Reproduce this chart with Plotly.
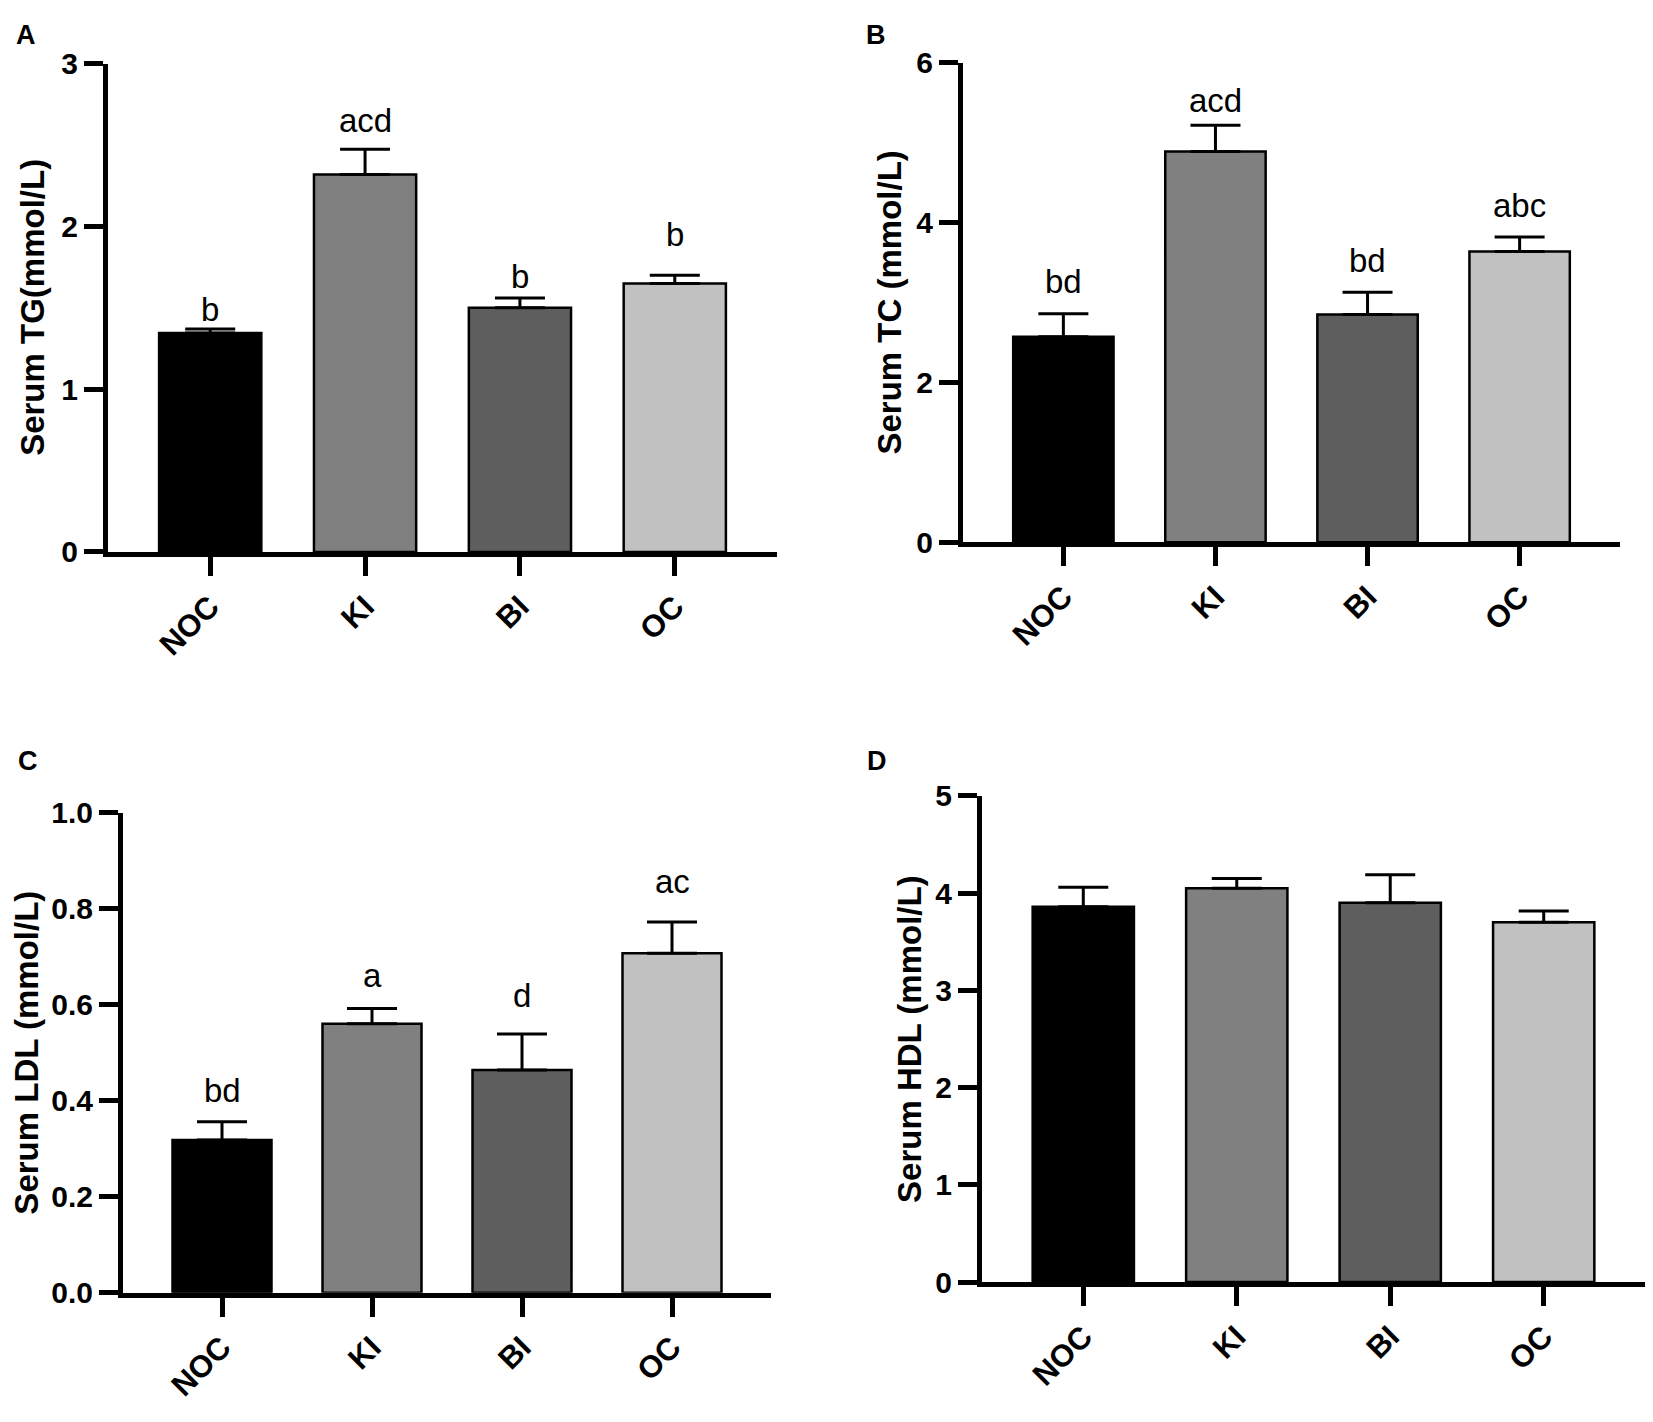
import plotly.graph_objects as go

W, H = 1653, 1422

groups = ["NOC", "KI", "BI", "OC"]

tg_mean = [1.345, 2.32, 1.50, 1.65]
tg_sem = [0.025, 0.155, 0.06, 0.05]
tg_labels = ["b", "acd", "b", "b"]

tc_mean = [2.57, 4.89, 2.85, 3.64]
tc_sem = [0.29, 0.33, 0.28, 0.18]
tc_labels = ["bd", "acd", "bd", "abc"]

ldl_mean = [0.318, 0.560, 0.464, 0.707]
ldl_sem = [0.038, 0.032, 0.075, 0.065]
ldl_labels = ["bd", "a", "d", "ac"]

hdl_mean = [3.86, 4.05, 3.90, 3.70]
hdl_sem = [0.20, 0.10, 0.29, 0.115]
hdl_labels = ["", "", "", ""]

y_titles = ["Serum TG(mmol/L)", "Serum TC (mmol/L)", "Serum LDL (mmol/L)", "Serum HDL (mmol/L)"]
panel_letters = ["A", "B", "C", "D"]
y_max = [3, 6, 1.0, 5]
y_dtick = [1, 2, 0.2, 1]
y_format = ["d", "d", ".1f", "d"]

# styling / layout (pixel boxes of each plot area: left, right, top, bottom)
bar_colors = ["#000000", "#808080", "#5e5e5e", "#c1c1c1"]
boxes = [(108, 777, 48, 548), (963, 1620, 47, 538), (123, 771, 815, 1307), (982, 1645, 798, 1296)]
title_x = [33, 890, 27, 910]
letter_pos = [(26, 18), (876, 18), (28, 762), (877, 762)]
gap_px = [[8, 17, 10, 29], [21, 13, 20, 20], [20, 21, 27, 29], [0, 0, 0, 0]]

FONT = "Liberation Sans, Arial, sans-serif"

fig = go.Figure()
means = [tg_mean, tc_mean, ldl_mean, hdl_mean]
sems = [tg_sem, tc_sem, ldl_sem, hdl_sem]
labels = [tg_labels, tc_labels, ldl_labels, hdl_labels]

annotations = []
for i in range(4):
    sfx = "" if i == 0 else str(i + 1)
    fig.add_trace(go.Bar(
        x=groups, y=means[i],
        xaxis="x" + sfx, yaxis="y" + sfx,
        width=0.66,
        marker=dict(color=bar_colors, line=dict(color="black", width=2.5)),
        error_y=dict(type="data", array=sems[i], arrayminus=[0] * 4, symmetric=False,
                     color="black", thickness=3, width=25),
        showlegend=False,
    ))
    l, r, t, b = boxes[i]
    xd = [l / W, r / W]
    yd = [1 - b / H, 1 - t / H]
    common = dict(showline=True, linewidth=5, linecolor="black", ticks="outside",
                  ticklen=19, tickwidth=5, tickcolor="black", showgrid=False, zeroline=False)
    fig.layout["xaxis" + sfx] = dict(domain=xd, anchor="y" + sfx, type="category",
                                     range=[-0.66, 3.66], tickangle=-45,
                                     tickfont=dict(family=FONT, size=31, color="black", weight="bold"),
                                     **common)
    fig.layout["yaxis" + sfx] = dict(domain=yd, anchor="x" + sfx, range=[0, y_max[i]],
                                     dtick=y_dtick[i], tick0=0, tickformat=y_format[i],
                                     tickfont=dict(family=FONT, size=30, color="black", weight="bold"),
                                     **common)
    # y title
    annotations.append(dict(xref="paper", yref="paper", x=title_x[i] / W, y=1 - (t + b) / 2 / H,
                            text=y_titles[i], textangle=-90, showarrow=False,
                            xanchor="center", yanchor="middle",
                            font=dict(family=FONT, size=33, color="black", weight="bold")))
    # panel letter
    lx, ly = letter_pos[i]
    annotations.append(dict(xref="paper", yref="paper", x=lx / W, y=1 - ly / H,
                            text=panel_letters[i], showarrow=False,
                            xanchor="center", yanchor="middle",
                            font=dict(family=FONT, size=27, color="black", weight="bold")))
    # significance letters
    for j in range(4):
        if labels[i][j]:
            annotations.append(dict(xref="x" + sfx, yref="y" + sfx, x=groups[j],
                                    y=means[i][j] + sems[i][j], text=labels[i][j],
                                    showarrow=False, xanchor="center", yanchor="bottom",
                                    yshift=gap_px[i][j] - 9,
                                    font=dict(family=FONT, size=33, color="black")))

fig.update_layout(width=W, height=H, margin=dict(l=0, r=0, t=0, b=0),
                  paper_bgcolor="white", plot_bgcolor="white",
                  annotations=annotations, bargap=0.34)

fig.write_html("out.html", config={"displayModeBar": False},
               post_script="document.body.style.margin='0';document.body.style.overflow='hidden';")
